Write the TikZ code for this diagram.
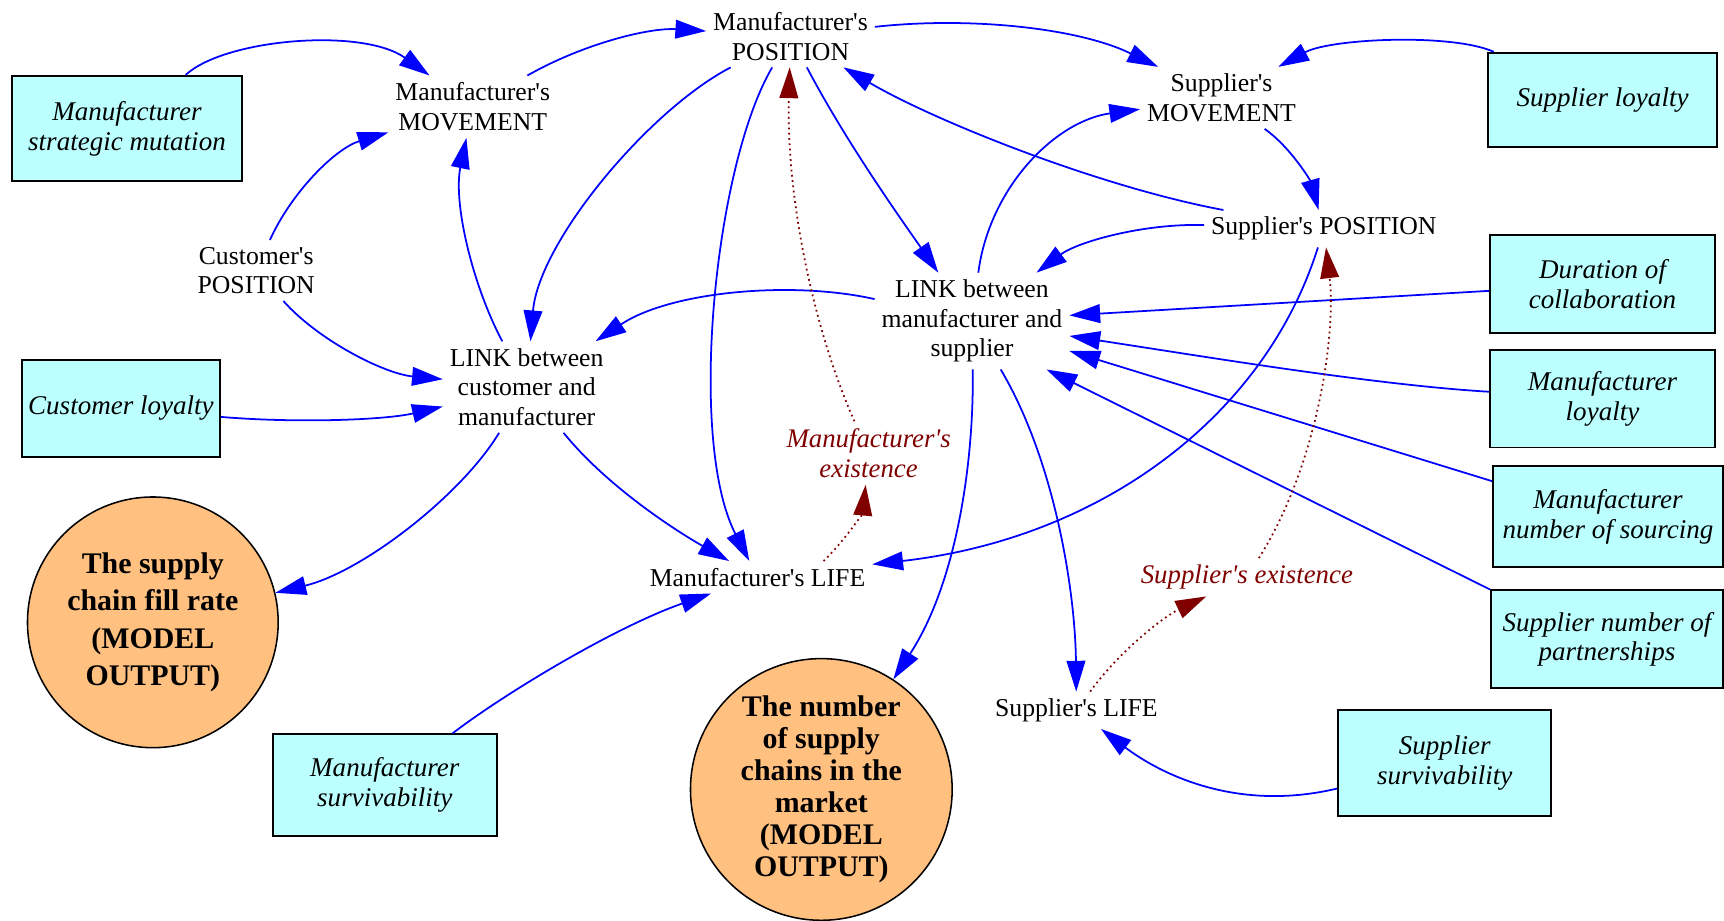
\documentclass[tikz,border=0pt]{standalone}
\usepackage{fontspec}
\setmainfont{Liberation Serif}[Ligatures=TeXOff]
\usetikzlibrary{arrows.meta}
\definecolor{linkblue}{RGB}{0,0,255}
\definecolor{existred}{RGB}{128,0,0}
\definecolor{paramfill}{RGB}{187,255,255}
\definecolor{outfill}{RGB}{255,192,128}

\begin{document}
\begin{tikzpicture}[x=0.5pt,y=-0.5pt,
  var/.style={align=center,inner sep=3pt,font=\fontsize{11.7}{13.5}\selectfont},
  param/.style={draw=black,line width=0.9pt,fill=paramfill,align=center,inner sep=2pt,
    font=\fontsize{12.3}{13.5}\selectfont\itshape},
  outcome/.style={circle,draw=black,line width=0.7pt,fill=outfill,align=center,inner sep=0pt,
    font=\fontsize{13.6}{17}\selectfont\bfseries},
  exist/.style={align=center,inner sep=3pt,text=existred,font=\fontsize{12.2}{13.8}\selectfont\itshape},
  flow/.style={draw=linkblue,line width=0.8pt,-{Triangle[length=14pt,width=8.5pt]}},
  lifeflow/.style={draw=existred,line width=0.8pt,dash pattern=on 0.8pt off 1.6pt,
    -{Triangle[length=14pt,width=8.5pt]}}
]
\useasboundingbox (0,0) rectangle (1568,837);

% variables and parameters
\node[param,minimum width=104.5pt,minimum height=48pt] (mmut) at (115.5,117) {Manufacturer\\strategic mutation};
\node[var] (mmove) at (430,97) {Manufacturer's\\MOVEMENT};
\node[var] (mpos) at (719,33) {Manufacturer's\\POSITION};
\node[var] (smove) at (1111,89) {Supplier's\\MOVEMENT};
\node[param,minimum width=104.5pt,minimum height=43pt] (sloy) at (1457.5,91) {Supplier loyalty};
\node[var] (cpos) at (233,246) {Customer's\\POSITION};
\node[var] (spos) at (1204,208) {Supplier's POSITION};
\node[var] (lms) at (884,292) {LINK between\\manufacturer and\\supplier};
\node[param,minimum width=102.5pt,minimum height=44.5pt] (dur) at (1457.5,258.5) {Duration of\\collaboration};
\node[var] (lcm) at (479,352) {LINK between\\customer and\\manufacturer};
\node[param,minimum width=90pt,minimum height=44.5pt] (cloy) at (110,371.5) {Customer loyalty};
\node[param,minimum width=102.5pt,minimum height=44.5pt] (mloy) at (1457.5,362.5) {Manufacturer\\loyalty};
\node[exist] (mex) at (790,412) {Manufacturer's\\existence};
\node[param,minimum width=104.5pt,minimum height=46pt] (msrc) at (1462.5,470) {Manufacturer\\number of sourcing};
\node[outcome,minimum size=114pt] (fillrate) at (139,566) {The supply\\chain fill rate\\(MODEL\\OUTPUT)};
\node[var] (mlife) at (689,525) {Manufacturer's LIFE};
\node[exist] (sex) at (1134,525) {Supplier's existence};
\node[param,minimum width=105.5pt,minimum height=44.5pt] (spart) at (1461.5,581.5) {Supplier number of\\partnerships};
\node[outcome,minimum size=119pt,font=\fontsize{13.6}{14.6}\selectfont\bfseries] (nsc) at (747,718)
  {The number\\of supply\\chains in the\\market\\(MODEL\\OUTPUT)};
\node[var] (slife) at (979,646) {Supplier's LIFE};
\node[param,minimum width=97pt,minimum height=48pt] (ssurv) at (1314,694) {Supplier\\survivability};
\node[param,minimum width=102pt,minimum height=46pt] (msurv) at (350,714) {Manufacturer\\survivability};

% causal links
\draw[flow] (mmut) .. controls (205,35) and (330,25) .. (mmove);
\draw[flow] (cpos) .. controls (265,175) and (305,135) .. (mmove);
\draw[flow] (mmove) .. controls (530,40) and (590,25) .. (mpos);
\draw[flow] (lcm) .. controls (430,260) and (412,185) .. (mmove);
\draw[flow] (mpos) .. controls (590,100) and (490,220) .. (lcm);
\draw[flow] (mpos) .. controls (650,150) and (625,400) .. (mlife);
\draw[flow] (mpos) .. controls (770,130) and (820,200) .. (lms);
\draw[flow] (mpos) .. controls (880,15) and (980,25) .. (smove);
\draw[flow] (spos) .. controls (1000,170) and (850,110) .. (mpos);
\draw[flow] (sloy) .. controls (1320,30) and (1210,35) .. (smove);
\draw[flow] (lms) .. controls (900,170) and (960,110) .. (smove);
\draw[flow] (smove) .. controls (1175,135) and (1192,165) .. (spos);
\draw[flow] (spos) .. controls (1040,203) and (980,220) .. (lms);
\draw[flow] (spos) .. controls (1150,380) and (1000,490) .. (mlife);
\draw[flow] (lms) .. controls (720,255) and (610,265) .. (lcm);
\draw[flow] (dur) -- (lms);
\draw[flow] (mloy) .. controls (1250,350) and (1100,325) .. (lms);
\draw[flow] (msrc) -- (lms);
\draw[flow] (spart.north west) -- (lms.-33);
\draw[flow] (cpos) .. controls (290,310) and (350,340) .. (lcm);
\draw[flow] (cloy) .. controls (270,385) and (350,382) .. (lcm);
\draw[flow] (lcm) .. controls (420,450) and (330,520) .. (fillrate);
\draw[flow] (lcm) .. controls (550,440) and (610,480) .. (mlife);
\draw[flow] (msurv) .. controls (460,630) and (560,570) .. (mlife);
\draw[flow] (lms) .. controls (886,420) and (870,530) .. (nsc);
\draw[flow] (lms) .. controls (960,420) and (978,540) .. (slife);
\draw[flow] (ssurv) .. controls (1120,740) and (1050,700) .. (slife);

% existence links
\draw[lifeflow] (mex) .. controls (740,300) and (715,180) .. (mpos);
\draw[lifeflow] ([xshift=30pt]mlife.north) .. controls (770,490) and (785,465) .. (mex);
\draw[lifeflow] (sex) .. controls (1200,420) and (1215,300) .. (spos);
\draw[lifeflow] (slife) .. controls (1020,590) and (1060,560) .. (sex);
\end{tikzpicture}
\end{document}
